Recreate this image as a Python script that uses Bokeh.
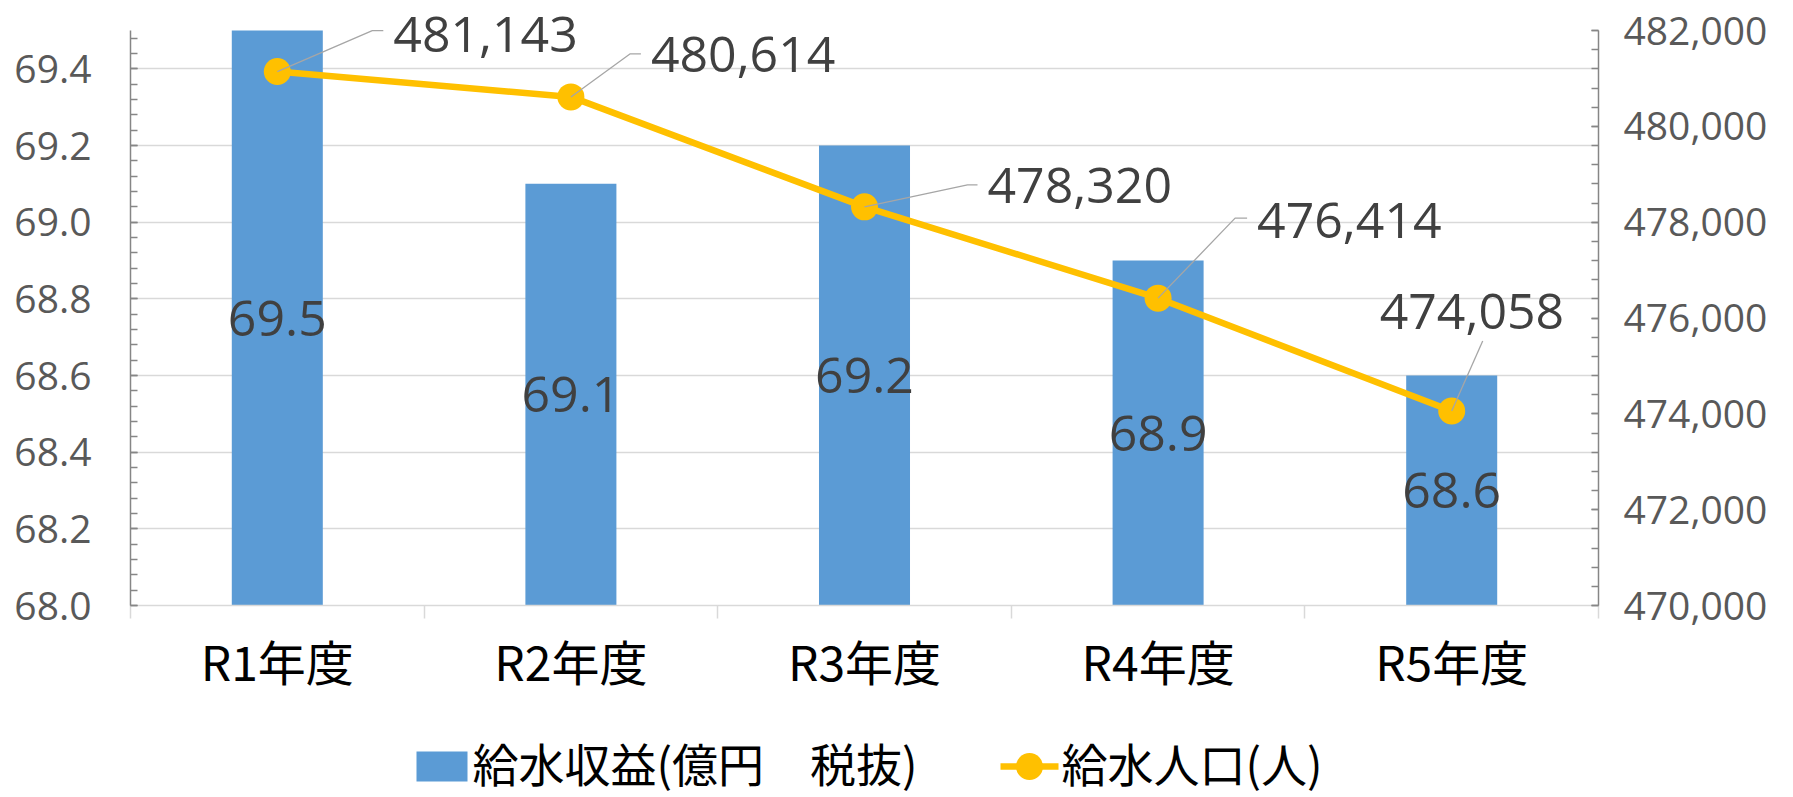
import numpy as np
from bokeh.plotting import figure
from bokeh.layouts import column
from bokeh.models import (Range1d, LinearAxis, FixedTicker, SingleIntervalTicker,
                          NumeralTickFormatter, ColumnDataSource, LabelSet)
from bokeh.core.properties import value
from bokeh.embed import file_html
from bokeh.resources import INLINE

# ---------------- data ----------------
categories = ["R1年度", "R2年度", "R3年度", "R4年度", "R5年度"]
revenue = [69.5, 69.1, 69.2, 68.9, 68.6]                 # 給水収益(億円 税抜)
population = [481143, 480614, 478320, 476414, 474058]    # 給水人口(人)
rev_name = "給水収益(億円　税抜)"
pop_name = "給水人口(人)"
rev_range = (68.0, 69.5)
pop_range = (470000, 482000)

# ---------------- style / layout ----------------
W = 1793
FW = 1468          # frame width
AX_H = 575         # height of the axis span (68.0 .. 69.5)
HEAD = 30          # room above the axes inside the frame (for the top data label)
LEFT = 130
MAIN_H = 720
LEG_H = 797 - MAIN_H
BAR_COLOR = "#5B9BD5"
LINE_COLOR = "#FFC000"
GRID_COLOR = "#D9D9D9"
AXIS_COLOR = "#868686"
TICK_TEXT = "#595959"
LABEL_TEXT = "#404040"
NUM_FONT = "Open Sans"
JP_FONT = "Noto Sans CJK JP"

# label placement for the population labels (screen px relative to the point, y down)
lab_dx = [116, 80, 123, 99, -72]
lab_dy = [-37, -42, -21, -78, -100]
bend_dx = [95, 59, 103, 77, 31]
bend_dy = [-41, -43, -22, -80, -70]
end_dx = [106, 70, 113, 89, 31]
end_dy = [-41, -43, -22, -80, -70]

n = len(categories)
xc = np.arange(n) + 0.5
px_x = FW / n
px_rev = AX_H / (rev_range[1] - rev_range[0])
px_pop = AX_H / (pop_range[1] - pop_range[0])

FH = AX_H + HEAD
p = figure(frame_width=FW, frame_height=FH,
           x_range=Range1d(0, n),
           y_range=Range1d(rev_range[0], rev_range[1] + HEAD / px_rev),
           output_backend="svg", toolbar_location=None,
           min_border_left=LEFT, min_border_right=W - LEFT - FW,
           min_border_top=0, min_border_bottom=MAIN_H - FH,
           outline_line_color=None, background_fill_color="white",
           border_fill_color="white")
p.extra_y_ranges = {"pop": Range1d(pop_range[0], pop_range[1] + HEAD / px_pop)}

# left axis
lt = SingleIntervalTicker(interval=0.2, num_minor_ticks=5)
ya = p.yaxis[0]
ya.ticker = lt
ya.bounds = rev_range
ya.formatter = NumeralTickFormatter(format="0.0")
ya.axis_line_color = AXIS_COLOR
ya.axis_line_width = 1.5
ya.major_tick_in = 7
ya.major_tick_out = 0
ya.minor_tick_in = 7
ya.minor_tick_out = 0
ya.major_tick_line_color = AXIS_COLOR
ya.minor_tick_line_color = AXIS_COLOR
ya.major_tick_line_width = 1.5
ya.minor_tick_line_width = 1.5
ya.major_label_text_font = NUM_FONT
ya.major_label_text_font_size = "39px"
ya.major_label_text_color = TICK_TEXT
ya.major_label_standoff = 39

p.ygrid.ticker = lt
p.ygrid.bounds = rev_range
p.ygrid.grid_line_color = GRID_COLOR
p.ygrid.grid_line_width = 1.4
p.xgrid.visible = False

# right axis
rt = SingleIntervalTicker(interval=2000, num_minor_ticks=5)
ra = LinearAxis(y_range_name="pop", ticker=rt, bounds=pop_range,
                formatter=NumeralTickFormatter(format="0,0"))
ra.axis_line_color = AXIS_COLOR
ra.axis_line_width = 1.5
ra.major_tick_in = 7
ra.major_tick_out = 0
ra.minor_tick_in = 7
ra.minor_tick_out = 0
ra.major_tick_line_color = AXIS_COLOR
ra.minor_tick_line_color = AXIS_COLOR
ra.major_tick_line_width = 1.5
ra.minor_tick_line_width = 1.5
ra.major_label_text_font = NUM_FONT
ra.major_label_text_font_size = "39px"
ra.major_label_text_color = TICK_TEXT
ra.major_label_standoff = 25
p.add_layout(ra, "right")

# bottom axis
xa = p.xaxis[0]
xa.ticker = FixedTicker(ticks=list(xc), minor_ticks=list(range(n + 1)))
xa.major_label_overrides = {float(x): c for x, c in zip(xc, categories)}
xa.axis_line_color = GRID_COLOR
xa.axis_line_width = 1.5
xa.major_tick_in = 0
xa.major_tick_out = 0
xa.minor_tick_in = 0
xa.minor_tick_out = 13
xa.minor_tick_line_color = GRID_COLOR
xa.minor_tick_line_width = 1.5
xa.major_label_text_font = JP_FONT
xa.major_label_text_font_size = "48px"
xa.major_label_text_color = "#000000"
xa.major_label_standoff = 6

# bars
src = ColumnDataSource(dict(
    x=xc, rev=revenue, mid=[(rev_range[0] + v) / 2 for v in revenue],
    rev_txt=[f"{v:.1f}" for v in revenue],
    pop=population, pop_txt=[f"{v:,}" for v in population],
    lx=xc + np.array(lab_dx) / px_x,
    ly=np.array(population) - np.array(lab_dy) / px_pop,
))
p.vbar(x="x", top="rev", bottom=rev_range[0], width=0.31, source=src,
       fill_color=BAR_COLOR, line_color=None)
p.text(x="x", y="mid", text="rev_txt", source=src, text_align="center",
       text_baseline="middle", text_font=value(NUM_FONT), text_font_size="50px",
       text_color=LABEL_TEXT)

# line
p.line(x="x", y="pop", source=src, y_range_name="pop",
       line_color=LINE_COLOR, line_width=6.5)
p.scatter(x="x", y="pop", source=src, y_range_name="pop", size=27,
          fill_color=LINE_COLOR, line_color=None)

# leader lines
xs, ys = [], []
for i in range(n):
    xs.append([xc[i], xc[i] + bend_dx[i] / px_x, xc[i] + end_dx[i] / px_x])
    ys.append([population[i], population[i] - bend_dy[i] / px_pop,
               population[i] - end_dy[i] / px_pop])
p.multi_line(xs=xs, ys=ys, y_range_name="pop", line_color="#A6A6A6", line_width=1.3)

p.add_layout(LabelSet(x="lx", y="ly", text="pop_txt", source=src, y_range_name="pop",
                      text_align="left", text_baseline="middle",
                      text_font=value(NUM_FONT), text_font_size=value("50px"),
                      text_color=value(LABEL_TEXT)))

# ---------------- legend (own strip under the chart) ----------------
LEG_Y = 766 - MAIN_H
LEG_TEXT_Y = LEG_Y - 5
leg = figure(frame_width=FW, frame_height=LEG_H,
             x_range=Range1d(LEFT, LEFT + FW), y_range=Range1d(LEG_H, 0),
             output_backend="svg", toolbar_location=None,
             min_border_left=LEFT, min_border_right=W - LEFT - FW,
             min_border_top=0, min_border_bottom=0,
             x_axis_location=None, y_axis_location=None, outline_line_color=None,
             background_fill_color="white", border_fill_color="white")
leg.grid.visible = False
leg.rect(x=[441.5], y=[LEG_Y], width=51, height=30, fill_color=BAR_COLOR, line_color=None)
leg.line(x=[1000, 1058], y=[LEG_Y, LEG_Y], line_color=LINE_COLOR, line_width=6.5)
leg.scatter(x=[1029], y=[LEG_Y], size=27, fill_color=LINE_COLOR, line_color=None)
leg.text(x=[472, 1061], y=[LEG_TEXT_Y, LEG_TEXT_Y], text=[rev_name, pop_name],
         text_align="left", text_baseline="middle", text_font=value(JP_FONT),
         text_font_size="46px", text_color="#000000")

layout = column(p, leg, spacing=0)
open("out.html", "w").write(file_html(layout, INLINE))
